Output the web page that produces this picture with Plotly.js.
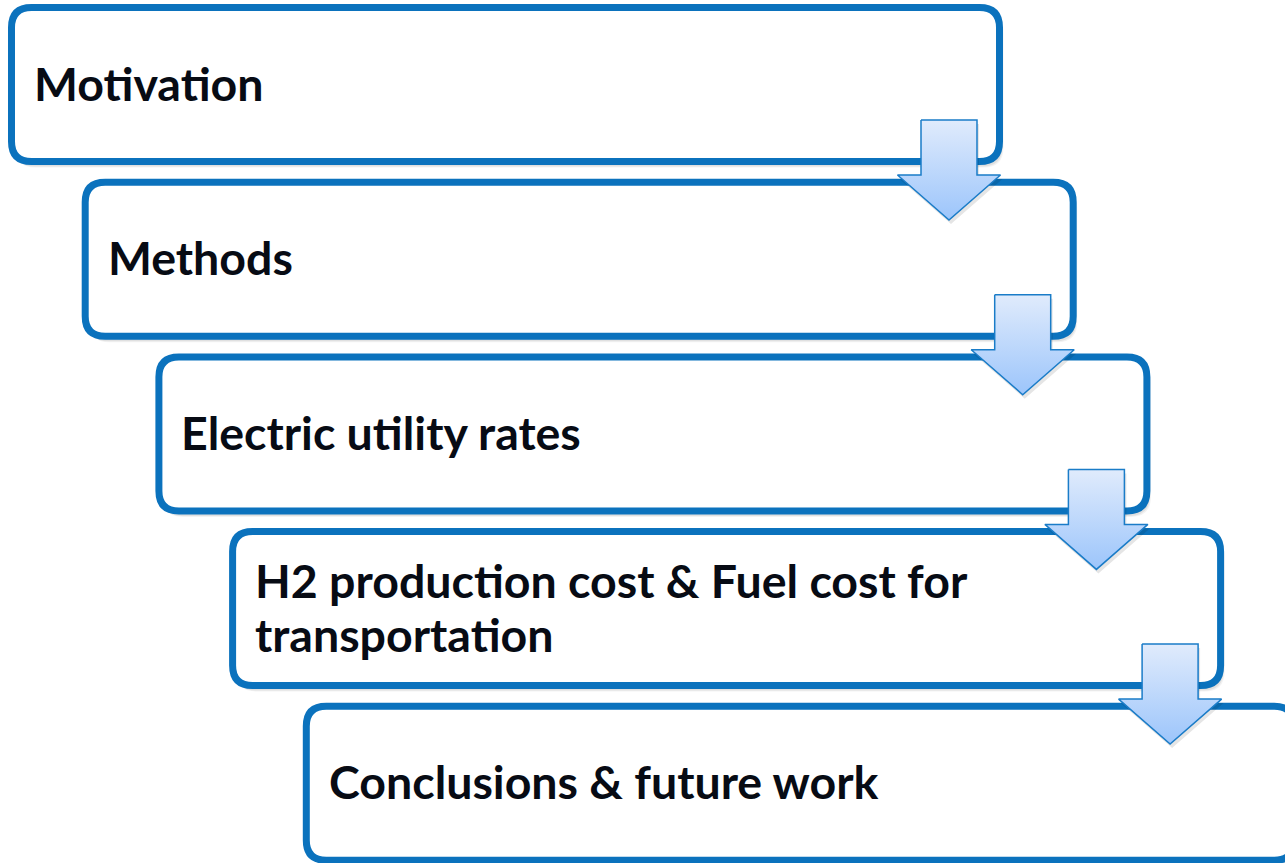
<!DOCTYPE html>
<html>
<head>
<meta charset="utf-8">
<script src="https://cdn.plot.ly/plotly-3.0.1.min.js"></script>
<style>
html,body{margin:0;padding:0;background:#fff;overflow:hidden;}
#chart{width:1285px;height:863px;}
</style>
</head>
<body>
<div id="chart"></div>
<script>
// Step labels (top to bottom); <br> marks a line break
var stepLabels = [
  "Motivation",
  "Methods",
  "Electric utility rates",
  "H2 production cost & Fuel cost for<br>transportation",
  "Conclusions & future work"
];

// layout geometry (pixels in a 1285x863 canvas)
var W = 1285, H = 863;
var g = {x0: 8, y0: 4, dx: 73.7, dy: 174.7, bw: 995, bh: 161, r: 20, lw: 7, textPad: 24, lineGap: 54};
var border = '#0b72bd';
var fontSpec = {family: 'Lato, "Open Sans", sans-serif', size: 46.5, color: '#070b14', weight: 'bold'};

function roundRect(x1, y1, x2, y2, r) {
  return 'M' + (x1 + r) + ',' + y1 +
    ' L' + (x2 - r) + ',' + y1 + ' Q' + x2 + ',' + y1 + ' ' + x2 + ',' + (y1 + r) +
    ' L' + x2 + ',' + (y2 - r) + ' Q' + x2 + ',' + y2 + ' ' + (x2 - r) + ',' + y2 +
    ' L' + (x1 + r) + ',' + y2 + ' Q' + x1 + ',' + y2 + ' ' + x1 + ',' + (y2 - r) +
    ' L' + x1 + ',' + (y1 + r) + ' Q' + x1 + ',' + y1 + ' ' + (x1 + r) + ',' + y1 + ' Z';
}

var shapes = [], annotations = [], traces = [];
stepLabels.forEach(function (lab, i) {
  var L = g.x0 + i * g.dx, T = g.y0 + i * g.dy;
  var R = L + g.bw, B = T + g.bh;
  var h = g.lw / 2;
  // soft shadow
  [[5, 6, 0.05], [4, 5, 0.07], [3, 3, 0.09]].forEach(function (s) {
    shapes.push({type: 'path', xref: 'x', yref: 'y', layer: 'below',
      path: roundRect(L + h + s[0] - 1, T + h + s[1], R - h + s[0] - 1, B - h + s[1], g.r),
      fillcolor: 'rgba(0,0,0,' + s[2] + ')', line: {width: 0}});
  });
  shapes.push({type: 'path', xref: 'x', yref: 'y', layer: 'below',
    path: roundRect(L + h, T + h, R - h, B - h, g.r),
    fillcolor: '#ffffff', line: {color: border, width: g.lw}});
  var lines = lab.split('<br>');
  var cy = T + g.bh / 2 - 2;
  lines.forEach(function (ln, k) {
    annotations.push({xref: 'x', yref: 'y', x: L + g.textPad,
      y: cy + (k - (lines.length - 1) / 2) * g.lineGap,
      xanchor: 'left', yanchor: 'middle', align: 'left', showarrow: false,
      text: ln, font: fontSpec});
  });
});

// arrows between consecutive steps
for (var i = 0; i < stepLabels.length - 1; i++) {
  var R = g.x0 + i * g.dx + g.bw, T = g.y0 + i * g.dy;
  var cx = R - 54, sw = 28, hw = 51.5;
  var yTop = T + 116, yBase = T + 171, yTip = T + 216;
  var xs = [cx - sw, cx + sw, cx + sw, cx + hw, cx, cx - hw, cx - sw, cx - sw];
  var ys = [yTop, yTop, yBase, yBase, yTip, yBase, yBase, yTop];
  // shadow
  traces.push({type: 'scatter', mode: 'lines', x: xs.map(function (v) { return v + 2; }),
    y: ys.map(function (v) { return v + 4; }), fill: 'toself',
    fillcolor: 'rgba(0,0,0,0.10)', line: {width: 0}, hoverinfo: 'skip', showlegend: false});
  traces.push({type: 'scatter', mode: 'lines', x: xs, y: ys, fill: 'toself',
    fillgradient: {type: 'vertical', colorscale: [[0, '#9cc5fb'], [1, '#e0ebfc']]},
    line: {color: '#1a7cc8', width: 1.5}, hoverinfo: 'skip', showlegend: false});
}

var layout = {
  width: W, height: H,
  margin: {l: 0, r: 0, t: 0, b: 0},
  paper_bgcolor: '#ffffff', plot_bgcolor: '#ffffff',
  xaxis: {range: [0, W], visible: false, fixedrange: true},
  yaxis: {range: [H, 0], visible: false, fixedrange: true},
  shapes: shapes, annotations: annotations, showlegend: false
};
Plotly.newPlot('chart', traces, layout, {staticPlot: true, displayModeBar: false});
</script>
</body>
</html>
